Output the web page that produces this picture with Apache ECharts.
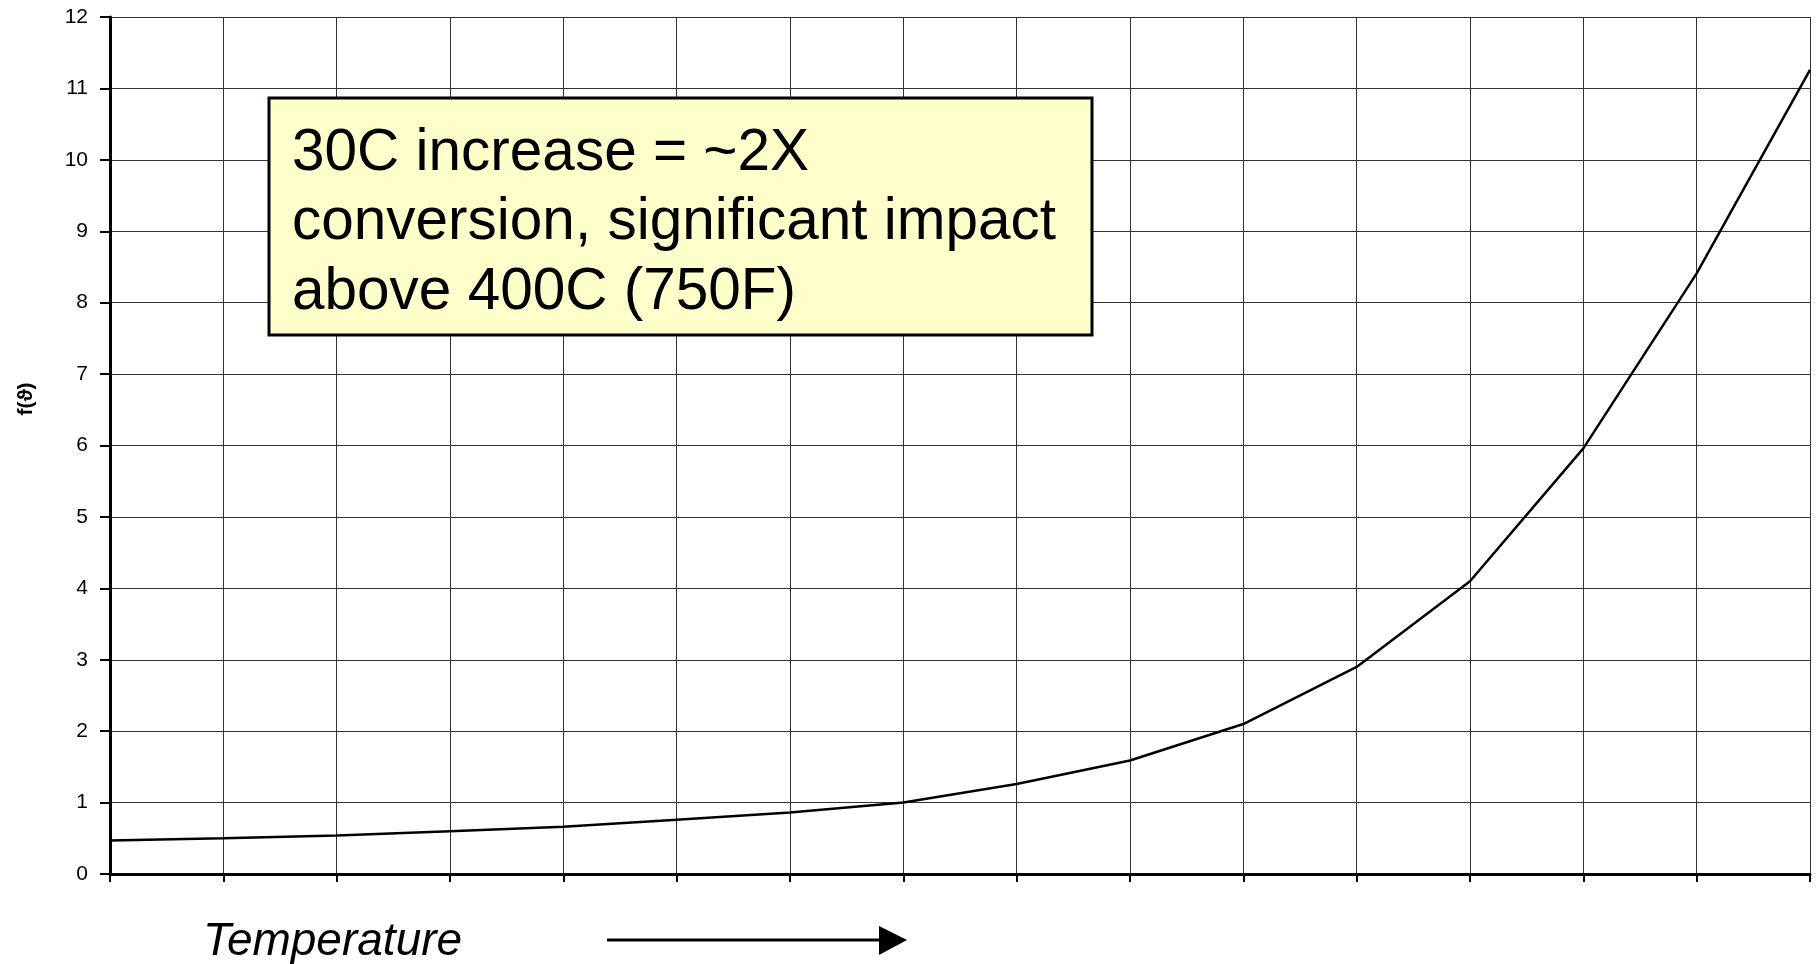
<!DOCTYPE html>
<html>
<head>
<meta charset="utf-8">
<script src="https://cdn.jsdelivr.net/npm/echarts@6/dist/echarts.min.js"></script>
<style>
html,body{margin:0;padding:0;background:#fff;}
#chart{width:1816px;height:964px;}
</style>
</head>
<body>
<div id="chart"></div>
<script>
const categories = ['1','2','3','4','5','6','7','8','9','10','11','12','13','14','15','16'];
const fTheta = [0.47,0.50,0.54,0.60,0.66,0.76,0.86,1.00,1.26,1.59,2.10,2.90,4.10,5.96,8.41,11.26];
const yTicks = [0,1,2,3,4,5,6,7,8,9,10,11,12];
const yAxisName = 'f(ϑ)';
const xAxisName = 'Temperature';
const noteLines = ['30C increase = ~2X', 'conversion, significant impact', 'above 400C (750F)'];

const chart = echarts.init(document.getElementById('chart'), null, {renderer:'canvas'});
const FONT = '"Liberation Sans", Arial, sans-serif';

const graphics = [
  {type:'rect', shape:{x:269, y:98, width:823, height:237}, style:{fill:'#FFFFCC', stroke:'#000', lineWidth:3}, z:100},
  {type:'text', x:203, y:942, style:{text:xAxisName, font:'italic 46px ' + FONT, fill:'#000', verticalAlign:'middle'}, z:100},
  {type:'line', shape:{x1:607, y1:940, x2:882, y2:940}, style:{stroke:'#000', lineWidth:3}, z:100},
  {type:'polygon', shape:{points:[[879,926],[907,940],[879,955]]}, style:{fill:'#000'}, z:100},
  {type:'text', x:26, y:399, rotation:Math.PI/2, style:{text:yAxisName, font:'bold 21px ' + FONT, fill:'#000', align:'center', verticalAlign:'middle'}, z:100}
];
const baselines = [174, 243, 313];
noteLines.forEach((t,i)=>{
  graphics.push({type:'text', x:292, y:baselines[i] - 0.3465*58.5, style:{text:t, font:'58.5px ' + FONT, fill:'#000', verticalAlign:'middle'}, z:101});
});

chart.setOption({
  animation:false,
  backgroundColor:'#fff',
  grid:{left:110, right:6, top:17, bottom:90, containLabel:false},
  xAxis:{
    type:'category', data:categories, boundaryGap:false,
    axisLine:{lineStyle:{color:'#000', width:3}},
    axisTick:{show:true, length:8, inside:false, alignWithLabel:true, lineStyle:{color:'#000', width:2}},
    axisLabel:{show:false},
    splitLine:{show:true, lineStyle:{color:'#333', width:1}}
  },
  yAxis:{
    type:'value', min:yTicks[0], max:yTicks[yTicks.length-1], interval:1,
    axisLine:{show:true, lineStyle:{color:'#000', width:3}},
    axisTick:{show:true, length:10, inside:false, lineStyle:{color:'#000', width:2}},
    axisLabel:{color:'#000', fontSize:21, fontFamily:FONT, margin:22},
    splitLine:{show:true, lineStyle:{color:'#333', width:1}}
  },
  series:[{
    type:'line', data:fTheta, symbol:'none', smooth:false,
    lineStyle:{color:'#000', width:2.5}
  }],
  graphic:graphics
});
</script>
</body>
</html>
